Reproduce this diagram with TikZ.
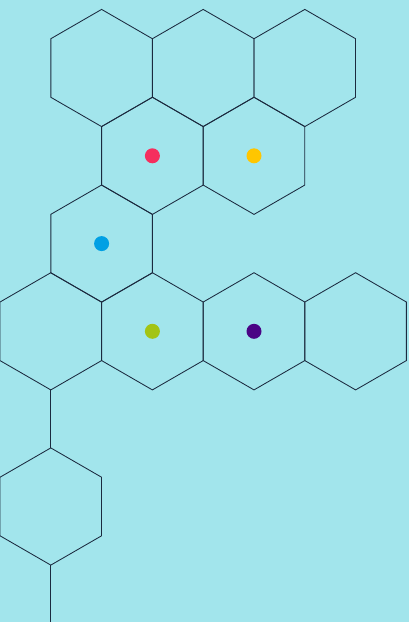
\documentclass[tikz,border=0pt]{standalone}
\usetikzlibrary{shapes.geometric}
\definecolor{bg}{HTML}{A2E5EC}
\definecolor{edge}{HTML}{1B2A3F}
\definecolor{dred}{HTML}{F52F5E}
\definecolor{dyellow}{HTML}{FFC600}
\definecolor{dblue}{HTML}{00A0E4}
\definecolor{dgreen}{HTML}{A3C414}
\definecolor{dpurple}{HTML}{4A0485}
\begin{document}
\begin{tikzpicture}[x=1pt,y=-1pt,
  hexcell/.style={regular polygon, regular polygon sides=6, shape border rotate=30,
    minimum size=117.2pt, inner sep=0pt, outer sep=0pt, draw=edge, line width=0.85pt},
  dot/.style={circle, minimum size=15pt, inner sep=0pt, draw=none},
  link/.style={draw=edge, line width=0.85pt}]
\fill[bg] (0,0) rectangle (409,622);
\useasboundingbox (0,0) rectangle (409,622);
% row 1
\node[hexcell] (h11) at (101.6,68) {};
\node[hexcell] (h12) at (203.2,68) {};
\node[hexcell] (h13) at (304.8,68) {};
% row 2
\node[hexcell] (h21) at (152.4,155.8) {};
\node[hexcell] (h22) at (254.0,155.8) {};
% row 3
\node[hexcell] (h31) at (101.6,243.6) {};
% row 4
\node[hexcell] (h41) at (50.8,331.3) {};
\node[hexcell] (h42) at (152.4,331.3) {};
\node[hexcell] (h43) at (254.0,331.3) {};
\node[hexcell] (h44) at (355.6,331.3) {};
% row 5
\node[hexcell] (h51) at (50.8,506.5) {};
\coordinate (endpt) at (50.8,622);
% connectors
\draw[link] (h41.south) -- (h51.north);
\draw[link] (h51.south) -- (endpt);
% dots
\node[dot, fill=dred] (d1) at (h21.center) {};
\node[dot, fill=dyellow] (d2) at (h22.center) {};
\node[dot, fill=dblue] (d3) at (h31.center) {};
\node[dot, fill=dgreen] (d4) at (h42.center) {};
\node[dot, fill=dpurple] (d5) at (h43.center) {};
\end{tikzpicture}
\end{document}
